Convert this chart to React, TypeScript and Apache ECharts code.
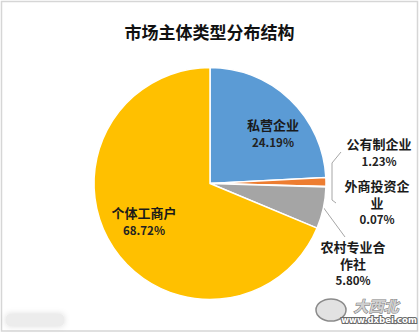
import React, { useEffect, useRef } from 'react';
import * as echarts from 'echarts';

const chartTitle = '市场主体类型分布结构';
const categories = ['私营企业', '公有制企业', '外商投资企业', '农村专业合作社', '个体工商户'];
const shares = [24.19, 1.23, 0.07, 5.8, 68.72];
const sliceColors = ['#5B9BD5', '#ED7D31', '#4472C4', '#A5A5A5', '#FFC000'];

// label block centres (px) and leader-line routes, layout only
const labelSpots: number[][] = [[273, 133], [379, 152], [377, 202], [353, 263], [144, 221]];
const leaderRoutes: (number[][] | null)[] = [
  null,
  [[332, 182], [332, 163], [341, 152]],
  [[332, 182], [332, 200], [336, 203]],
  [[323, 207], [334, 222], [345, 237]],
  null,
];

function wrapName(s: string, n: number): string {
  const lines: string[] = [];
  for (let i = 0; i < s.length; i += n) lines.push(s.slice(i, i + n));
  return lines.map((l) => `{n|${l}}`).join('\n');
}

export default function App() {
  const ref = useRef<HTMLDivElement>(null);
  useEffect(() => {
    if (!ref.current) return;
    const chart = echarts.init(ref.current, undefined, { renderer: 'svg' });
    const font = '"Noto Sans CJK SC", "Noto Sans", sans-serif';
    chart.setOption({
      animation: false,
      backgroundColor: '#ffffff',
      title: {
        text: chartTitle,
        left: 'center',
        top: 18,
        textStyle: { fontFamily: font, fontSize: 17, fontWeight: 'bold', color: '#111' },
      },
      graphic: [
        {
          type: 'rect',
          shape: { x: 1.5, y: 1.5, width: 416, height: 329.5 },
          style: { fill: 'none', stroke: '#d6d6d6', lineWidth: 1.5 },
          silent: true,
        },
        {
          type: 'rect',
          shape: { x: 6, y: 314, width: 58, height: 12, r: 4 },
          style: { fill: '#ececec', shadowBlur: 6, shadowColor: 'rgba(0,0,0,0.15)' },
          silent: true,
        },
        {
          type: 'ellipse',
          shape: { cx: 331, cy: 310, rx: 15, ry: 11 },
          style: { fill: '#e2e2e2', stroke: '#8a8a8a', lineWidth: 1.5 },
          silent: true,
        },
        {
          type: 'text',
          x: 376,
          y: 305,
          style: {
            text: '大西北',
            fontFamily: font,
            fontSize: 15,
            fontWeight: 'bold',
            fontStyle: 'italic',
            fill: '#d0d0d0',
            stroke: '#7a7a7a',
            lineWidth: 1,
            align: 'center',
            verticalAlign: 'middle',
          },
          silent: true,
        },
        {
          type: 'text',
          x: 379,
          y: 320,
          style: {
            text: 'www.dxbei.com',
            fontFamily: 'DejaVu Sans',
            fontSize: 8.5,
            fontWeight: 'bold',
            fill: '#ffffff',
            stroke: '#6a6a6a',
            lineWidth: 2.2,
            align: 'center',
            verticalAlign: 'middle',
          },
          silent: true,
        },
      ],
      series: [
        {
          type: 'pie',
          center: [210, 183.5],
          radius: 116,
          startAngle: 90,
          clockwise: true,
          avoidLabelOverlap: false,
          itemStyle: { borderColor: '#ffffff', borderWidth: 1.5 },
          label: {
            show: true,
            fontFamily: font,
            formatter: (p: any) => `${wrapName(p.name, 5)}\n{p|${Number(p.value).toFixed(2)}%}`,
            rich: {
              n: { fontFamily: font, fontSize: 13, fontWeight: 'bold', color: '#1a1a1a', lineHeight: 17 },
              p: { fontFamily: font, fontSize: 11.5, fontWeight: 'bold', color: '#222', lineHeight: 17 },
            },
            align: 'center',
          },
          labelLine: { show: true, lineStyle: { color: '#a6a6a6', width: 1 }, length: 10, length2: 10 },
          labelLayout: (params: any) => {
            const i = params.dataIndex;
            const spot = labelSpots[i];
            const out: any = { x: spot[0], y: spot[1], align: 'center', verticalAlign: 'middle' };
            const route = leaderRoutes[i];
            if (route) out.labelLinePoints = route;
            return out;
          },
          data: categories.map((name, i) => ({
            name,
            value: shares[i],
            itemStyle: { color: sliceColors[i] },
            label: { position: leaderRoutes[i] ? 'outside' : 'inside' },
            labelLine: { show: !!leaderRoutes[i] },
          })),
        },
      ],
    });
    return () => chart.dispose();
  }, []);
  return (
    <div
      ref={ref}
      style={{ position: 'fixed', left: 0, top: 0, width: 419, height: 333 }}
    />
  );
}
